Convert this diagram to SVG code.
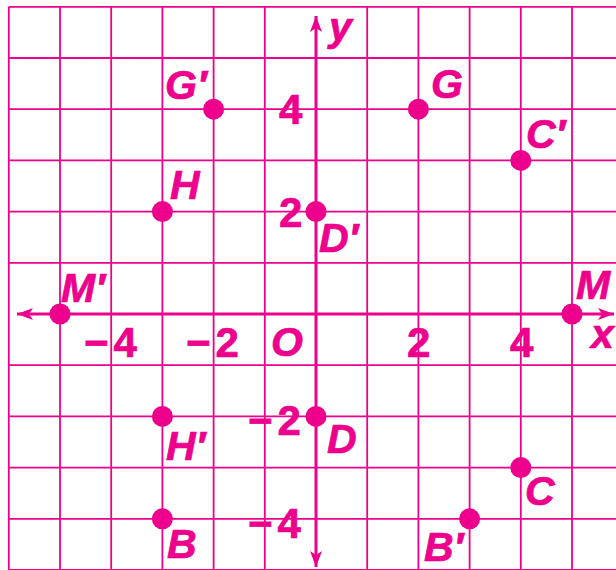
<svg xmlns="http://www.w3.org/2000/svg" width="616" height="570" viewBox="0 0 616 570">
<style>
.grid line{stroke:#EC008C;stroke-width:1.8}
.axis{stroke:#EC008C;stroke-width:3;fill:none}
.pt{fill:#EC008C}
.lbl{font-family:"Liberation Sans",Arial,sans-serif;font-weight:bold;font-style:italic;font-size:41px;fill:#EC008C;stroke:#EC008C;stroke-width:0.7}
.num{font-family:"Liberation Sans",Arial,sans-serif;font-weight:bold;font-size:42px;fill:#EC008C;stroke:#EC008C;stroke-width:0.7}
</style>
<defs>
<marker id="arr" viewBox="-17 -7 18 14" refX="0" refY="0" markerWidth="18" markerHeight="14" markerUnits="userSpaceOnUse" orient="auto-start-reverse">
<path d="M0,0 L-16,-6 L-12,0 L-16,6 Z" fill="#EC008C"/>
</marker>
</defs>
<rect width="616" height="570" fill="#fff"/>
<g id="grid" class="grid">
<line x1="8.8" y1="6.8" x2="8.8" y2="570"/>
<line x1="60" y1="6.8" x2="60" y2="570"/>
<line x1="111.2" y1="6.8" x2="111.2" y2="570"/>
<line x1="162.4" y1="6.8" x2="162.4" y2="570"/>
<line x1="213.6" y1="6.8" x2="213.6" y2="570"/>
<line x1="264.8" y1="6.8" x2="264.8" y2="570"/>
<line x1="367.2" y1="6.8" x2="367.2" y2="570"/>
<line x1="418.4" y1="6.8" x2="418.4" y2="570"/>
<line x1="469.6" y1="6.8" x2="469.6" y2="570"/>
<line x1="520.8" y1="6.8" x2="520.8" y2="570"/>
<line x1="572" y1="6.8" x2="572" y2="570"/>
<line x1="8.8" y1="6.8" x2="616" y2="6.8"/>
<line x1="8.8" y1="58" x2="616" y2="58"/>
<line x1="8.8" y1="109.2" x2="616" y2="109.2"/>
<line x1="8.8" y1="160.4" x2="616" y2="160.4"/>
<line x1="8.8" y1="211.6" x2="616" y2="211.6"/>
<line x1="8.8" y1="262.8" x2="616" y2="262.8"/>
<line x1="8.8" y1="365.2" x2="616" y2="365.2"/>
<line x1="8.8" y1="416.4" x2="616" y2="416.4"/>
<line x1="8.8" y1="467.6" x2="616" y2="467.6"/>
<line x1="8.8" y1="518.8" x2="616" y2="518.8"/>
<line x1="8.8" y1="570" x2="616" y2="570"/>
</g>
<g id="connectors">
<line class="axis" x1="17" y1="314" x2="614" y2="314" marker-start="url(#arr)" marker-end="url(#arr)"/>
<line class="axis" x1="316" y1="16" x2="316" y2="567" marker-start="url(#arr)" marker-end="url(#arr)"/>
</g>
<g id="axis-labels">
<text class="lbl" x="329" y="41">y</text>
<text class="lbl" x="591" y="348">x</text>
<text class="lbl" x="271" y="356">O</text>
<text class="num" x="84" y="357">−<tspan dx="5">4</tspan></text>
<text class="num" x="186" y="357">−<tspan dx="5">2</tspan></text>
<text class="num" x="407" y="357">2</text>
<text class="num" x="510" y="357">4</text>
<text class="num" x="279" y="124">4</text>
<text class="num" x="279" y="227">2</text>
<text class="num" x="248" y="435">−<tspan dx="5">2</tspan></text>
<text class="num" x="248" y="538">−<tspan dx="5">4</tspan></text>
</g>
<g id="G-prime"><circle class="pt" cx="213.6" cy="109.2" r="10.5"/><text class="lbl" x="165" y="99">G′</text></g>
<g id="G"><circle class="pt" cx="418.4" cy="109.2" r="10.5"/><text class="lbl" x="431" y="98">G</text></g>
<g id="C-prime"><circle class="pt" cx="520.8" cy="160.4" r="10.5"/><text class="lbl" x="526" y="148">C′</text></g>
<g id="H"><circle class="pt" cx="162.4" cy="211.6" r="10.5"/><text class="lbl" x="170" y="199">H</text></g>
<g id="D-prime"><circle class="pt" cx="316" cy="211.6" r="10.5"/><text class="lbl" x="319" y="252">D′</text></g>
<g id="M-prime"><circle class="pt" cx="60" cy="314" r="10.5"/><text class="lbl" x="61" y="302">M′</text></g>
<g id="M"><circle class="pt" cx="572" cy="314" r="10.5"/><text class="lbl" x="576" y="299">M</text></g>
<g id="H-prime"><circle class="pt" cx="162.4" cy="416.4" r="10.5"/><text class="lbl" x="166" y="460">H′</text></g>
<g id="D"><circle class="pt" cx="316" cy="416.4" r="10.5"/><text class="lbl" x="327" y="453">D</text></g>
<g id="C"><circle class="pt" cx="520.8" cy="467.6" r="10.5"/><text class="lbl" x="525" y="505">C</text></g>
<g id="B"><circle class="pt" cx="162.4" cy="518.8" r="10.5"/><text class="lbl" x="167" y="558">B</text></g>
<g id="B-prime"><circle class="pt" cx="469.6" cy="518.8" r="10.5"/><text class="lbl" x="424" y="561">B′</text></g>
</svg>
